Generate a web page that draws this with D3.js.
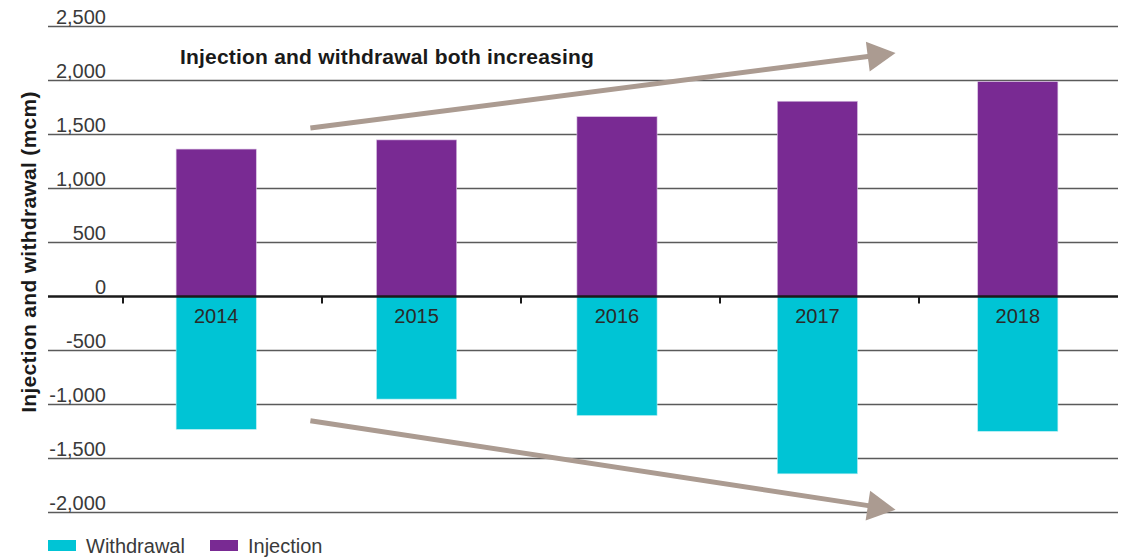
<!DOCTYPE html>
<html>
<head>
<meta charset="utf-8">
<script src="https://cdn.jsdelivr.net/npm/d3@7"></script>
<style>
  body { margin: 0; background: #fff; }
  svg { display: block; font-family: "Liberation Sans", Arial, Helvetica, sans-serif; }
</style>
</head>
<body>
<div id="chart"></div>
<script>
// chart data
const years = ['2014', '2015', '2016', '2017', '2018'];
const injection = [1365, 1450, 1665, 1808, 1990];
const withdrawal = [-1230, -950, -1102, -1642, -1248];
const yTicks = [2500, 2000, 1500, 1000, 500, 0, -500, -1000, -1500, -2000];
const annotationTitle = 'Injection and withdrawal both increasing';
const yTitle = 'Injection and withdrawal (mcm)';
const legendItems = [
  { label: 'Withdrawal', color: '#00c4d5' },
  { label: 'Injection', color: '#792a93' }
];
// trend arrows: x as category index position, y as value
const trendArrows = [
  { x0: 0.47, y0: 1560, x1: 3.39, y1: 2255 },
  { x0: 0.47, y0: -1150, x1: 3.39, y1: -1975 }
];

const width = 1126, height = 557;
const plot = { left: 48, right: 1118 };

const svg = d3.select('#chart').append('svg')
  .attr('width', width)
  .attr('height', height);

const y = d3.scaleLinear().domain([-2000, 2500]).range([512.5, 26.5]);

// bars live on a band scale, axis ticks sit between the bars
const x = d3.scaleBand().domain(years).range([116, 1118]).paddingInner(0.6).paddingOuter(0.3);
const tickX = d3.scaleBand().domain(years).range([123, 1118]);
const xIdx = d3.scaleLinear().domain([0, years.length - 1])
  .range([x(years[0]) + x.bandwidth() / 2, x(years[years.length - 1]) + x.bandwidth() / 2]);

const fmt = d => d3.format(',')(d).replace('\u2212', '-');

// gridlines + labels
const grid = svg.append('g');
grid.selectAll('line')
  .data(yTicks.filter(d => d !== 0))
  .enter().append('line')
  .attr('x1', plot.left).attr('x2', plot.right)
  .attr('y1', d => y(d)).attr('y2', d => y(d))
  .attr('stroke', '#5a5a5a')
  .attr('stroke-width', 1.4);

grid.selectAll('text')
  .data(yTicks)
  .enter().append('text')
  .attr('x', 106)
  .attr('y', d => y(d) - 3)
  .attr('text-anchor', 'end')
  .attr('font-size', 20)
  .attr('fill', '#3a3a3a')
  .text(fmt);

// bars
const bars = svg.append('g');
bars.selectAll('rect.inj')
  .data(years)
  .enter().append('rect')
  .attr('class', 'inj')
  .attr('x', d => x(d))
  .attr('width', x.bandwidth())
  .attr('y', (d, i) => y(injection[i]))
  .attr('height', (d, i) => y(0) - y(injection[i]))
  .attr('fill', legendItems[1].color)
  .attr('stroke', '#d9c2e3')
  .attr('stroke-width', 0.6);

bars.selectAll('rect.wd')
  .data(years)
  .enter().append('rect')
  .attr('class', 'wd')
  .attr('x', d => x(d))
  .attr('width', x.bandwidth())
  .attr('y', y(0))
  .attr('height', (d, i) => y(withdrawal[i]) - y(0))
  .attr('fill', legendItems[0].color)
  .attr('stroke', '#b8eef3')
  .attr('stroke-width', 0.6);

// zero axis with category ticks
const axis = svg.append('g');
axis.append('line')
  .attr('x1', plot.left).attr('x2', plot.right)
  .attr('y1', y(0)).attr('y2', y(0))
  .attr('stroke', '#1a1a1a')
  .attr('stroke-width', 2.5);
axis.selectAll('line.tick')
  .data(years)
  .enter().append('line')
  .attr('class', 'tick')
  .attr('x1', d => tickX(d)).attr('x2', d => tickX(d))
  .attr('y1', y(0)).attr('y2', y(0) + 7)
  .attr('stroke', '#1a1a1a')
  .attr('stroke-width', 2);
axis.selectAll('text')
  .data(years)
  .enter().append('text')
  .attr('x', d => x(d) + x.bandwidth() / 2)
  .attr('y', y(0) + 26)
  .attr('text-anchor', 'middle')
  .attr('font-size', 20)
  .attr('fill', '#2a2a2a')
  .text(d => d);

// y axis title
svg.append('text')
  .attr('transform', 'translate(36,252) rotate(-90)')
  .attr('text-anchor', 'middle')
  .attr('font-size', 21)
  .attr('font-weight', 'bold')
  .attr('letter-spacing', 0.3)
  .attr('fill', '#1a1a1a')
  .text(yTitle);

// annotation text
svg.append('text')
  .attr('x', 180)
  .attr('y', 64)
  .attr('font-size', 21)
  .attr('font-weight', 'bold')
  .attr('letter-spacing', 0.2)
  .attr('fill', '#1a1a1a')
  .text(annotationTitle);

// trend arrows
const arrowColor = '#ab9b91';
const arrows = svg.append('g');
trendArrows.forEach(a => {
  const sx = xIdx(a.x0), sy = y(a.y0), ex = xIdx(a.x1), ey = y(a.y1);
  const ang = Math.atan2(ey - sy, ex - sx);
  const headLen = 28, headHalf = 15;
  const bx = ex - headLen * Math.cos(ang), by = ey - headLen * Math.sin(ang);
  arrows.append('line')
    .attr('x1', sx).attr('y1', sy)
    .attr('x2', bx + 2 * Math.cos(ang)).attr('y2', by + 2 * Math.sin(ang))
    .attr('stroke', arrowColor)
    .attr('stroke-width', 5);
  const px = -Math.sin(ang), py = Math.cos(ang);
  arrows.append('path')
    .attr('d', `M${ex},${ey}L${bx + headHalf * px},${by + headHalf * py}L${bx - headHalf * px},${by - headHalf * py}Z`)
    .attr('fill', arrowColor);
});

// legend
const legend = svg.append('g').attr('transform', 'translate(48,540)');
const legendX = [0, 162];
legend.selectAll('rect')
  .data(legendItems)
  .enter().append('rect')
  .attr('x', (d, i) => legendX[i])
  .attr('y', 0)
  .attr('width', 28)
  .attr('height', 11)
  .attr('fill', d => d.color);
legend.selectAll('text')
  .data(legendItems)
  .enter().append('text')
  .attr('x', (d, i) => legendX[i] + 38)
  .attr('y', 13)
  .attr('font-size', 20)
  .attr('fill', '#3a3a3a')
  .text(d => d.label);
</script>
</body>
</html>
